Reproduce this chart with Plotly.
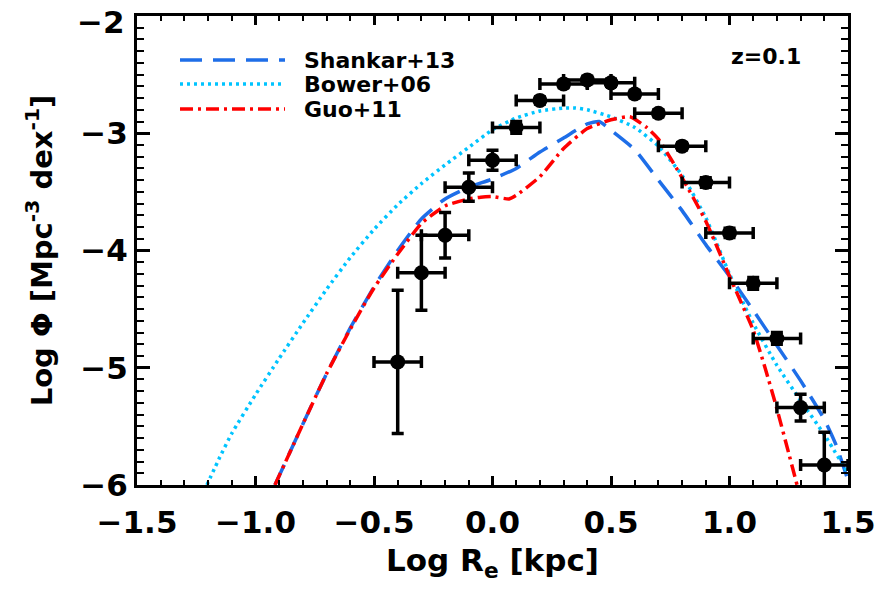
import plotly.graph_objects as go

# Observed size function at z=0.1 (binned data with errors)
obs_logR = [-0.4, -0.3, -0.2, -0.1, 0.0, 0.1, 0.2, 0.3, 0.4, 0.5,
            0.6, 0.7, 0.8, 0.9, 1.0, 1.1, 1.2, 1.3, 1.4]
obs_logPhi = [-4.95, -4.19, -3.87, -3.46, -3.23, -2.95, -2.72, -2.58, -2.545, -2.57,
              -2.665, -2.83, -3.11, -3.42, -3.85, -4.28, -4.75, -5.34, -5.83]
obs_err_y = [0.61, 0.32, 0.195, 0.12, 0.085, 0.05, 0.03, 0.03, 0.03, 0.03,
             0.03, 0.03, 0.03, 0.04, 0.04, 0.05, 0.05, 0.115, 0.28]
obs_err_x = [0.1] * len(obs_logR)

# Model predictions
shankar_x = [-0.918, -0.85, -0.8, -0.7, -0.6, -0.5, -0.4, -0.3, -0.2, -0.1, 0.0, 0.1,
             0.2, 0.3, 0.4, 0.45, 0.5, 0.6, 0.7, 0.8, 0.9, 1.0, 1.1, 1.2, 1.3, 1.4, 1.45, 1.5]
shankar_y = [-6.0, -5.70, -5.48, -5.05, -4.66, -4.31, -4.00, -3.73, -3.56, -3.46, -3.39, -3.30,
             -3.16, -3.04, -2.92, -2.90, -2.975, -3.14, -3.40, -3.66, -3.95, -4.22, -4.51, -4.81,
             -5.11, -5.44, -5.66, -5.96]

bower_x = [-1.205, -1.15, -1.1, -1.0, -0.9, -0.8, -0.7, -0.6, -0.5, -0.4, -0.3, -0.2, -0.1, 0.0,
           0.1, 0.2, 0.3, 0.35, 0.4, 0.5, 0.6, 0.7, 0.8, 0.9, 1.0, 1.1, 1.2, 1.3, 1.4, 1.5]
bower_y = [-6.0, -5.76, -5.56, -5.23, -4.92, -4.62, -4.33, -4.06, -3.82, -3.61, -3.43, -3.27, -3.12,
           -2.97, -2.87, -2.81, -2.785, -2.785, -2.80, -2.86, -2.95, -3.11, -3.36, -3.72, -4.20,
           -4.62, -4.98, -5.28, -5.57, -5.9]

guo_x = [-0.918, -0.85, -0.8, -0.7, -0.6, -0.5, -0.4, -0.3, -0.2, -0.1, -0.05, 0.0, 0.07,
         0.1, 0.2, 0.3, 0.4, 0.5, 0.58, 0.65, 0.7, 0.8, 0.9, 1.0, 1.1, 1.15, 1.2, 1.25, 1.285]
guo_y = [-6.0, -5.70, -5.48, -5.05, -4.67, -4.32, -4.03, -3.77, -3.62, -3.56, -3.545, -3.54, -3.56,
         -3.53, -3.37, -3.13, -2.96, -2.885, -2.86, -2.95, -3.05, -3.38, -3.75, -4.22, -4.68,
         -5.0, -5.35, -5.73, -6.0]

x_ticks = [-1.5, -1.0, -0.5, 0.0, 0.5, 1.0, 1.5]
x_tick_text = ["\u22121.5", "\u22121.0", "\u22120.5", "0.0", "0.5", "1.0", "1.5"]
y_ticks = [-6, -5, -4, -3, -2]
y_tick_text = ["\u22126", "\u22125", "\u22124", "\u22123", "\u22122"]

models = [
    ("Shankar+13", shankar_x, shankar_y, "#1E6EE8", "22px,11px"),
    ("Bower+06", bower_x, bower_y, "#00C4FF", "3px,4px"),
    ("Guo+11", guo_x, guo_y, "#FF0000", "13px,5px,3px,5px"),
]

FONT = "DejaVu Sans"

fig = go.Figure()

for name, xs, ys, color, dash in models:
    fig.add_trace(go.Scatter(
        x=xs, y=ys, mode="lines", name=name,
        line=dict(color=color, width=3.5, dash=dash, shape="spline", smoothing=0.5),
        showlegend=False,
    ))

fig.add_trace(go.Scatter(
    x=obs_logR, y=obs_logPhi, mode="markers", name="data",
    marker=dict(color="black", size=15, symbol="circle"),
    error_y=dict(type="data", array=obs_err_y, color="black", thickness=3.5, width=6),
    error_x=dict(type="data", array=obs_err_x, color="black", thickness=3.5, width=6),
    showlegend=False,
))

# Legend drawn inside the upper-left corner of the frame
x0_px, x1_px, tx_px = 180, 285, 302
rows_px = [60, 84, 109]
L, R, T, B = 137, 848, 16, 485
W, H = R - L, B - T


def px_x(p):
    return (p - L) / W


def px_y(p):
    return (B - p) / H


for (name, _, _, color, dash), ry in zip(models, rows_px):
    fig.add_shape(type="line", xref="paper", yref="paper",
                  x0=px_x(x0_px), x1=px_x(x1_px), y0=px_y(ry), y1=px_y(ry),
                  line=dict(color=color, width=3.5, dash=dash))
    fig.add_annotation(xref="paper", yref="paper", x=px_x(tx_px), y=px_y(ry),
                       text=name, showarrow=False, xanchor="left", yanchor="middle",
                       font=dict(family=FONT, size=22, color="black", weight="bold"))

fig.add_annotation(xref="paper", yref="paper", x=px_x(803), y=px_y(56),
                   text="z=0.1", showarrow=False, xanchor="right", yanchor="middle",
                   font=dict(family=FONT, size=22, color="black", weight="bold"))

# The top y label sits a little below its tick so it stays inside the page
top_label = y_tick_text[-1]
y_axis_text = y_tick_text[:-1] + [""]
fig.add_annotation(xref="paper", yref="paper", x=px_x(127), y=px_y(22),
                   text=top_label, showarrow=False, xanchor="right", yanchor="middle",
                   font=dict(family=FONT, size=31, color="black", weight="bold"))

axis_common = dict(
    showline=True, linecolor="black", linewidth=3, mirror="allticks",
    showgrid=False, zeroline=False, ticks="inside", tickcolor="black", tickwidth=3,
    tickfont=dict(family=FONT, size=31, color="black", weight="bold"),
    ticklabeloverflow="allow", automargin=False,
)

fig.update_xaxes(
    range=[-1.5, 1.5], tickvals=x_ticks, ticktext=x_tick_text, ticklen=9,
    ticklabelstandoff=8,
    minor=dict(ticks="inside", dtick=0.1, ticklen=5, tickwidth=2, tickcolor="black"),
    title=dict(text="Log R<sub>e</sub> [kpc]", standoff=11,
               font=dict(family=FONT, size=31, color="black", weight="bold")),
    **axis_common,
)
fig.update_yaxes(
    range=[-6, -2], tickvals=y_ticks, ticktext=y_axis_text, ticklen=13,
    minor=dict(ticks="inside", dtick=0.1, ticklen=7, tickwidth=2, tickcolor="black"),
    title=dict(text="Log \u03a6 [Mpc<sup>-3</sup> dex<sup>-1</sup>]", standoff=20,
               font=dict(family=FONT, size=29, color="black", weight="bold")),
    **axis_common,
)

fig.update_layout(
    width=880, height=590,
    margin=dict(l=L, r=880 - R, t=T, b=590 - B, autoexpand=False),
    paper_bgcolor="white", plot_bgcolor="white",
    font=dict(family=FONT, color="black"),
)

fig.write_html("out.html")
